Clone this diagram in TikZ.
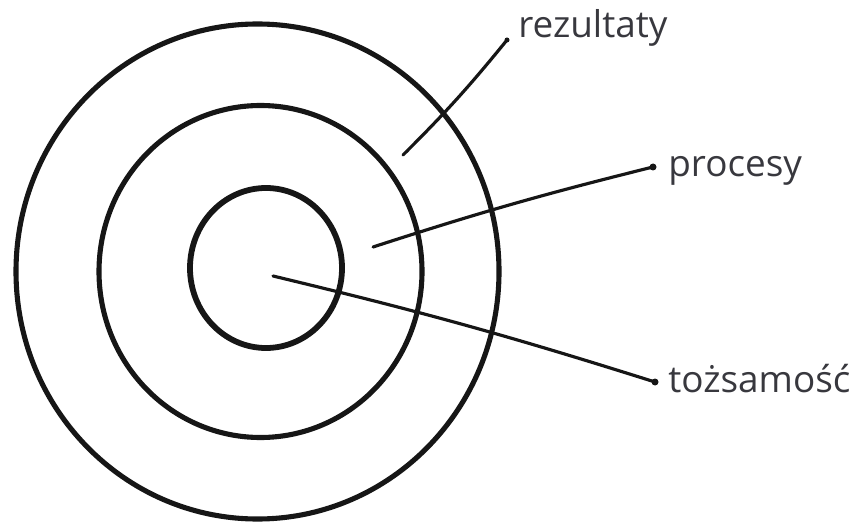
\documentclass[tikz,border=0pt]{standalone}
\usepackage{fontspec}
\setsansfont{Open Sans}
\usetikzlibrary{positioning}
\definecolor{ringInk}{HTML}{161616}
\definecolor{labelInk}{HTML}{38383E}
\tikzset{
  every picture/.style={font=\sffamily\fontsize{21}{25}\selectfont, text=labelInk},
  ring/.style={draw=ringInk, line width=2.9pt},
  ring thick/.style={draw=ringInk, line width=3.3pt},
  pointer/.style={draw=ringInk, line width=1.8pt, line cap=round},
  pointer dot/.style={fill=ringInk},
  ring label/.style={inner sep=0pt, anchor=base west}
}

\begin{document}
\begin{tikzpicture}[x=0.02cm,y=-0.02cm]
  \useasboundingbox (0,0) rectangle (854,523);
  \draw[ring] (257.5,271.5) ellipse [x radius=241.5, y radius=247.5];
  \draw[ring] (260.5,271.5) ellipse [x radius=161.5, y radius=166];
  \draw[ring thick] (266,268) ellipse [x radius=76, y radius=80];
  \node[ring label] (rezultaty) at (518,38) {rezultaty};
  \node[ring label] (procesy) at (668,177) {procesy};
  \node[ring label] (tozsamosc) at (668,392) {tożsamość};
  \coordinate (rez in) at (403,155);
  \coordinate (proc in) at (373,247);
  \coordinate (toz in) at (273,276);
  \coordinate (rez out) at ([shift={(-11,2)}]rezultaty.base west);
  \coordinate (proc out) at ([shift={(-15,-10)}]procesy.base west);
  \coordinate (toz out) at ([shift={(-13,-10)}]tozsamosc.base west);
  \draw[pointer] (rez in) to[bend right=3] (rez out);
  \draw[pointer] (proc in) to[bend left=2] (proc out);
  \draw[pointer] (toz in) to[bend left=2] (toz out);
  \fill[pointer dot] (rez out) circle (2.5);
  \fill[pointer dot] (proc out) circle (3.5);
  \fill[pointer dot] (toz out) circle (3.5);
\end{tikzpicture}
\end{document}
